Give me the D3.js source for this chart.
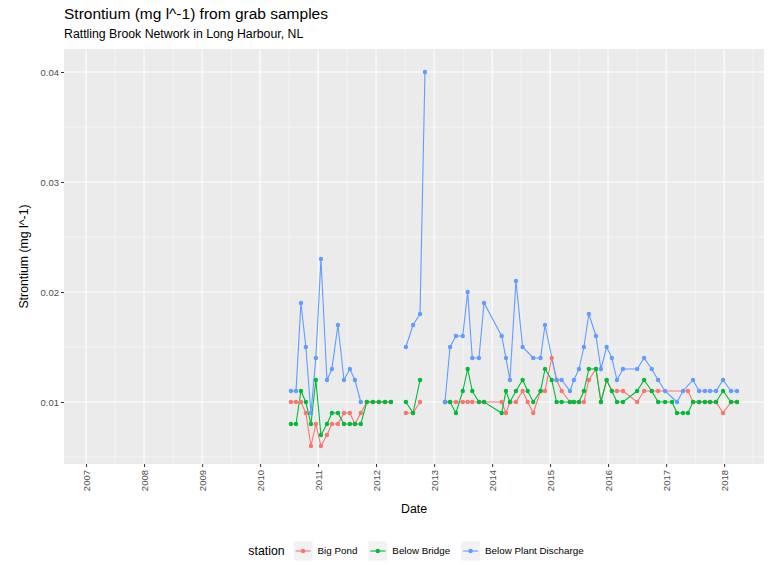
<!DOCTYPE html>
<html>
<head>
<meta charset="utf-8">
<script src="https://cdn.jsdelivr.net/npm/d3@7"></script>
<style>
  body { margin: 0; background: #fff; }
  svg { display: block; }
  text { font-family: "Liberation Sans", Arial, Helvetica, sans-serif; }
</style>
</head>
<body>
<svg id="chart" width="769" height="567"></svg>
<script>
// ---- data -------------------------------------------------------------
const stations = ["Big Pond", "Below Bridge", "Below Plant Discharge"];
const stationColors = ["#F8766D", "#00BA38", "#619CFF"];

const yTicks = [0.01, 0.02, 0.03, 0.04];
const yMinorTicks = [0.005, 0.015, 0.025, 0.035];
const xTickYears = [2007, 2008, 2009, 2010, 2011, 2012, 2013, 2014, 2015, 2016, 2017, 2018];

// sampling dates shared by the three stations (null = station not sampled)
const sampleDates = [
  // 2010-2012 campaign
  "2010-07-14", "2010-08-15", "2010-09-15", "2010-10-16", "2010-11-17", "2010-12-18",
  "2011-01-19", "2011-02-26", "2011-03-29", "2011-05-06", "2011-06-13", "2011-07-20",
  "2011-08-21", "2011-09-27", "2011-11-04", "2011-12-12", "2012-01-19", "2012-02-26",
  "2012-04-04",
  // 2012 campaign
  "2012-07-07", "2012-08-21", "2012-10-04", "2012-11-04",
  // 2013-2018 campaign
  "2013-03-10", "2013-04-11", "2013-05-18", "2013-06-30", "2013-07-31", "2013-08-29",
  "2013-10-10", "2013-11-11", "2014-03-02", "2014-03-29", "2014-04-23", "2014-05-31",
  "2014-07-12", "2014-08-13", "2014-09-17", "2014-11-02", "2014-11-30", "2015-01-11",
  "2015-02-11", "2015-03-15", "2015-05-06", "2015-05-31", "2015-07-02", "2015-08-02",
  "2015-09-02", "2015-10-17", "2015-11-17", "2015-12-23", "2016-01-25", "2016-02-26",
  "2016-04-04", "2016-07-02", "2016-08-15", "2016-10-02", "2016-11-11", "2016-12-25",
  "2017-02-07", "2017-03-10", "2017-04-17", "2017-05-18", "2017-06-19", "2017-07-27",
  "2017-09-02", "2017-10-04", "2017-11-11", "2017-12-25", "2018-02-13", "2018-03-23"
];

// no samples between campaigns: the lines are broken there
const campaignBreaks = ["2012-05-20", "2012-12-20"];

const bigPond = [
  0.010, 0.010, 0.010, 0.009, 0.006, 0.008,
  0.006, 0.007, 0.008, 0.008, 0.009, 0.009,
  0.008, 0.009, 0.010, 0.010, 0.010, 0.010,
  0.010,
  0.009, 0.009, 0.010, null,
  0.010, 0.010, 0.010, 0.010, 0.010, 0.010,
  0.010, 0.010, 0.010, 0.009, 0.010, 0.010,
  0.011, 0.010, 0.009, 0.011, 0.011, 0.014,
  0.012, 0.011, 0.010, 0.010, 0.010, 0.010,
  0.012, 0.013, 0.010, 0.012, 0.011, 0.011,
  0.011, 0.010, 0.011, 0.011, 0.011, null,
  null, null, null, 0.011, 0.010, 0.010,
  0.010, 0.010, 0.010, 0.009, 0.010, 0.010
];

const belowBridge = [
  0.008, 0.008, 0.011, 0.010, 0.008, 0.012,
  0.007, 0.008, 0.009, 0.009, 0.008, 0.008,
  0.008, 0.008, 0.010, 0.010, 0.010, 0.010,
  0.010,
  0.010, 0.009, 0.012, null,
  0.010, 0.010, 0.009, 0.011, 0.013, 0.011,
  0.010, 0.010, 0.009, 0.011, 0.010, 0.011,
  0.012, 0.011, 0.010, 0.011, 0.013, 0.012,
  0.010, 0.010, 0.010, 0.010, 0.010, 0.011,
  0.013, 0.013, 0.010, 0.012, 0.011, 0.010,
  0.010, 0.011, 0.012, 0.011, 0.010, 0.010,
  0.010, 0.009, 0.009, 0.009, 0.010, 0.010,
  0.010, 0.010, 0.010, 0.011, 0.010, 0.010
];

const belowPlantDischarge = [
  0.011, 0.011, 0.019, 0.015, 0.009, 0.014,
  0.023, 0.012, 0.013, 0.017, 0.012, 0.013,
  0.012, 0.010, null, null, null, null,
  null,
  0.015, 0.017, 0.018, 0.040,
  0.010, 0.015, 0.016, 0.016, 0.020, 0.014,
  0.014, 0.019, 0.016, 0.014, 0.012, 0.021,
  0.015, null, 0.014, 0.014, 0.017, null,
  0.012, 0.012, 0.011, 0.012, 0.013, 0.015,
  0.018, 0.016, 0.013, 0.015, 0.014, 0.012,
  0.013, 0.013, 0.014, 0.013, 0.012, 0.011,
  null, 0.010, 0.011, null, 0.012, 0.011,
  0.011, 0.011, 0.011, 0.012, 0.011, 0.011
];

const seriesValues = [bigPond, belowBridge, belowPlantDischarge];

// ---- layout -----------------------------------------------------------
const width = 769, height = 567;
const panel = { left: 64, right: 764, top: 49, bottom: 464 };

const parse = d3.timeParse("%Y-%m-%d");
const svg = d3.select("#chart");

const x = d3.scaleTime()
  .domain([parse("2006-08-15"), parse("2018-09-09")])
  .range([panel.left, panel.right]);

const y = d3.scaleLinear()
  .domain([0.004364, 0.04209])
  .range([panel.bottom, panel.top]);

// ---- panel & grid -----------------------------------------------------
svg.append("rect")
  .attr("x", panel.left).attr("y", panel.top)
  .attr("width", panel.right - panel.left)
  .attr("height", panel.bottom - panel.top)
  .attr("fill", "#EBEBEB");

const grid = svg.append("g");
const xMinor = xTickYears.map(yr => new Date(yr, 6, 2)).concat([new Date(2006, 6, 2)])
  .filter(d => x(d) > panel.left && x(d) < panel.right);
grid.selectAll(".xminor").data(xMinor).join("line")
  .attr("x1", d => x(d)).attr("x2", d => x(d))
  .attr("y1", panel.top).attr("y2", panel.bottom)
  .attr("stroke", "#fff").attr("stroke-width", 0.55);
grid.selectAll(".yminor").data(yMinorTicks).join("line")
  .attr("x1", panel.left).attr("x2", panel.right)
  .attr("y1", d => y(d)).attr("y2", d => y(d))
  .attr("stroke", "#fff").attr("stroke-width", 0.55);

const xMajor = xTickYears.map(yr => new Date(yr, 0, 1));
grid.selectAll(".xmajor").data(xMajor).join("line")
  .attr("x1", d => x(d)).attr("x2", d => x(d))
  .attr("y1", panel.top).attr("y2", panel.bottom)
  .attr("stroke", "#fff").attr("stroke-width", 1.1);
grid.selectAll(".ymajor").data(yTicks).join("line")
  .attr("x1", panel.left).attr("x2", panel.right)
  .attr("y1", d => y(d)).attr("y2", d => y(d))
  .attr("stroke", "#fff").attr("stroke-width", 1.1);

// ---- axes -------------------------------------------------------------
const yAxis = d3.axisLeft(y).tickValues(yTicks).tickSize(3).tickPadding(2)
  .tickFormat(d3.format(".2f"));
const gy = svg.append("g").attr("transform", `translate(${panel.left},0)`).call(yAxis);
gy.select(".domain").remove();
gy.selectAll(".tick line").attr("stroke", "#333").attr("stroke-width", 1);
gy.selectAll(".tick text").attr("fill", "#4D4D4D").attr("font-size", 9.5);

const xAxis = d3.axisBottom(x).tickValues(xMajor).tickSize(3)
  .tickFormat(d3.timeFormat("%Y"));
const gx = svg.append("g").attr("transform", `translate(0,${panel.bottom})`).call(xAxis);
gx.select(".domain").remove();
gx.selectAll(".tick line").attr("stroke", "#333").attr("stroke-width", 1);
gx.selectAll(".tick text")
  .attr("fill", "#4D4D4D").attr("font-size", 9.5)
  .attr("transform", "rotate(-90)")
  .attr("text-anchor", "end")
  .attr("x", -6).attr("y", 0).attr("dy", "0.35em");

// ---- series -----------------------------------------------------------
const breaks = campaignBreaks.map(parse);
function segmentsOf(values) {
  const pts = [];
  values.forEach((v, i) => { if (v !== null) pts.push({ date: parse(sampleDates[i]), value: v }); });
  const segs = [];
  let cur = [];
  pts.forEach((p, i) => {
    if (i > 0 && breaks.some(b => pts[i - 1].date < b && p.date > b)) { segs.push(cur); cur = []; }
    cur.push(p);
  });
  if (cur.length) segs.push(cur);
  return { pts, segs };
}

const line = d3.line().x(d => x(d.date)).y(d => y(d.value));
const parsed = seriesValues.map(segmentsOf);

const lines = svg.append("g");
parsed.forEach((s, k) => {
  lines.selectAll(null).data(s.segs).join("path")
    .attr("d", line)
    .attr("fill", "none")
    .attr("stroke", stationColors[k])
    .attr("stroke-width", 1.1);
});
const points = svg.append("g");
parsed.forEach((s, k) => {
  points.selectAll(null).data(s.pts).join("circle")
    .attr("cx", d => x(d.date)).attr("cy", d => y(d.value))
    .attr("r", 2.2)
    .attr("fill", stationColors[k]);
});

// ---- titles -----------------------------------------------------------
svg.append("text").attr("x", panel.left).attr("y", 19)
  .attr("font-size", 15.5).attr("fill", "#000")
  .text("Strontium (mg l^-1) from grab samples");
svg.append("text").attr("x", panel.left).attr("y", 38)
  .attr("font-size", 12.3).attr("fill", "#000")
  .text("Rattling Brook Network in Long Harbour, NL");

svg.append("text")
  .attr("transform", `translate(24,${(panel.top + panel.bottom) / 2}) rotate(-90)`)
  .attr("text-anchor", "middle").attr("dy", "0.35em")
  .attr("font-size", 12.3).attr("fill", "#000")
  .text("Strontium (mg l^-1)");

svg.append("text")
  .attr("x", (panel.left + panel.right) / 2).attr("y", 513)
  .attr("text-anchor", "middle")
  .attr("font-size", 12.3).attr("fill", "#000")
  .text("Date");

// ---- legend -----------------------------------------------------------
const legend = svg.append("g");
const legendY = 551, keySize = 19;
const lt = legend.append("text").attr("x", 0).attr("y", legendY).attr("dy", "0.35em")
  .attr("font-size", 12.3).attr("fill", "#000").text("station");
let cx = lt.node().getComputedTextLength() + 9;
stations.forEach((name, k) => {
  const g = legend.append("g").attr("transform", `translate(${cx},${legendY - keySize / 2})`);
  g.append("rect").attr("width", keySize).attr("height", keySize).attr("fill", "#F2F2F2");
  g.append("line").attr("x1", 2).attr("x2", keySize - 2)
    .attr("y1", keySize / 2).attr("y2", keySize / 2)
    .attr("stroke", stationColors[k]).attr("stroke-width", 1.1);
  g.append("circle").attr("cx", keySize / 2).attr("cy", keySize / 2).attr("r", 2.2)
    .attr("fill", stationColors[k]);
  cx += keySize + 5;
  const t = legend.append("text").attr("x", cx).attr("y", legendY).attr("dy", "0.35em")
    .attr("font-size", 9.8).attr("fill", "#000").text(name);
  cx += t.node().getComputedTextLength() + 11;
});
const legendWidth = cx - 11;
legend.attr("transform", `translate(${416 - legendWidth / 2},0)`);
</script>
</body>
</html>
